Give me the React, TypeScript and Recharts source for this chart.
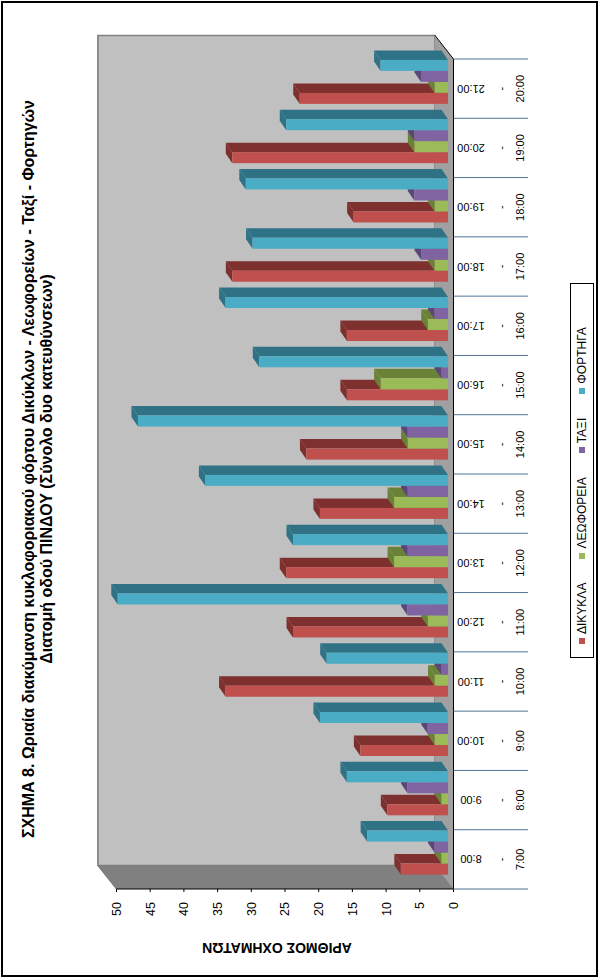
import React from 'react';
import { BarChart, Bar, XAxis, YAxis, CartesianGrid, Legend } from 'recharts';

const hourStarts = ['7:00', '8:00', '9:00', '10:00', '11:00', '12:00', '13:00', '14:00', '15:00', '16:00', '17:00', '18:00', '19:00', '20:00'];
const hourEnds = ['8:00', '9:00', '10:00', '11:00', '12:00', '13:00', '14:00', '15:00', '16:00', '17:00', '18:00', '19:00', '20:00', '21:00'];
const dikykla = [7, 9, 13, 33, 23, 24, 19, 21, 15, 15, 32, 14, 32, 22];
const leoforeia = [1, 1, 2, 2, 3, 8, 8, 6, 10, 3, 2, 2, 5, 2];
const taxi = [2, 6, 3, 1, 6, 6, 6, 6, 1, 2, 4, 5, 5, 4];
const fortiga = [12, 15, 19, 18, 49, 23, 36, 46, 28, 33, 29, 30, 24, 10];
const valueTicks = [0, 5, 10, 15, 20, 25, 30, 35, 40, 45, 50];

const rows = hourStarts.map((h, i) => ({
  hour: h,
  dikykla: dikykla[i],
  leoforeia: leoforeia[i],
  taxi: taxi[i],
  fortiga: fortiga[i],
}));

const series = [
  { key: 'dikykla', name: 'ΔΙΚΥΚΛΑ', color: '#C0504D', dark: '#7E302E' },
  { key: 'leoforeia', name: 'ΛΕΩΦΟΡΕΙΑ', color: '#9BBB59', dark: '#6A8238' },
  { key: 'taxi', name: 'ΤΑΞΙ', color: '#8064A2', dark: '#5A4678' },
  { key: 'fortiga', name: 'ΦΟΡΤΗΓΑ', color: '#4BACC6', dark: '#2F7286' },
];

const W = 979;
const H = 600;
const left = 90;
const right = 920;
const top = 116.5;
const bottom = 453.5;
const depthX = 23.5;
const depthY = -18.5;
const step = (right - left) / hourStarts.length;
const font = '"Liberation Sans", Arial, sans-serif';

function Box3D(props: any) {
  const { x, y, width, height, color, dark } = props;
  // bars sit part way into the floor
  const x0 = x + 6.4;
  const y0 = y - 5.5;
  const dx = 9.5;
  const dy = -6.5;
  const x1 = x0 + width;
  const y1 = y0 + height;
  return (
    <g>
      <polygon points={`${x1},${y1} ${x1 + dx},${y1 + dy} ${x1 + dx},${y0 + dy} ${x1},${y0}`} fill={dark} />
      <polygon points={`${x0},${y0} ${x0 + dx},${y0 + dy} ${x1 + dx},${y0 + dy} ${x1},${y0}`} fill={dark} />
      <rect x={x0} y={y0} width={width} height={height} fill={color} />
    </g>
  );
}

function GridLine(props: any) {
  const { x1, y1, x2, y2 } = props;
  const edge = y1 < top + 1 || y1 > bottom - 1;
  return (
    <path
      d={`M${x1},${y1} L${x1 + depthX},${y1 + depthY} L${x2 + depthX},${y2 + depthY}`}
      fill="none"
      stroke={edge ? '#6E6E6E' : '#1C1C1C'}
      strokeWidth={1.2}
    />
  );
}

function HourTick(props: any) {
  const { x, index, payload } = props;
  const i = index ?? payload.index;
  const sep = '#4F7396';
  return (
    <g fontFamily={font} fontSize={11} fill="#000">
      <line x1={x - step / 2} y1={bottom} x2={x - step / 2} y2={528} stroke={sep} />
      {i === hourStarts.length - 1 && <line x1={x + step / 2} y1={bottom} x2={x + step / 2} y2={528} stroke={sep} />}
      <text x={x + 4} y={471} textAnchor="middle" transform={`rotate(-90 ${x + 4} 471)`}>{hourEnds[i]}</text>
      <text x={x} y={505} textAnchor="middle">-</text>
      <text x={x} y={524} textAnchor="middle">{payload.value}</text>
    </g>
  );
}

function LegendBox({ payload }: any) {
  return (
    <div style={{ display: 'flex', alignItems: 'center', height: 24, boxSizing: 'border-box', border: '1px solid #000', paddingLeft: 13, fontFamily: font, fontSize: 12, background: '#fff' }}>
      {(payload || []).map((p: any) => (
        <span key={p.value} style={{ display: 'flex', alignItems: 'center', marginRight: 24 }}>
          <i style={{ width: 6, height: 6, background: p.color, marginRight: 4, display: 'block' }} />
          {p.value}
        </span>
      ))}
    </div>
  );
}

export default function App() {
  return (
    <div style={{ position: 'absolute', left: 0, top: 0, width: 600, height: 979, overflow: 'hidden', background: '#fff' }}>
      <div style={{ position: 'absolute', left: 1, top: 1, width: 597, height: 976, boxSizing: 'border-box', border: '2px solid #000' }} />
      <div style={{ position: 'absolute', left: 0, top: 0, width: W, height: H, transformOrigin: '0 0', transform: `translateY(${W}px) rotate(-90deg)` }}>
        <BarChart
          width={W}
          height={H}
          data={rows}
          margin={{ left: left - 60, right: W - right, top, bottom: H - bottom - 60 }}
          barCategoryGap={8}
          barGap={0}
        >
          <polygon points={`${left + depthX},${top + depthY} ${right + depthX},${top + depthY} ${right + depthX},${bottom + depthY} ${left + depthX},${bottom + depthY}`} fill="#C0C0C0" stroke="#808080" strokeWidth={1.5} />
          <polygon points={`${left},${top} ${left + depthX},${top + depthY} ${left + depthX},${bottom + depthY} ${left},${bottom}`} fill="#808080" />
          <polygon points={`${left},${bottom} ${right},${bottom} ${right + depthX},${bottom + depthY} ${left + depthX},${bottom + depthY}`} fill="#A0A0A0" />
          <line x1={right} y1={bottom} x2={right + depthX} y2={bottom + depthY} stroke="#000" />
          <CartesianGrid vertical={false} horizontal={GridLine} />
          <XAxis dataKey="hour" height={60} interval={0} tickLine={false} axisLine={{ stroke: '#000' }} tick={HourTick} />
          <YAxis
            width={60}
            domain={[0, 50]}
            ticks={valueTicks}
            interval={0}
            tickSize={3}
            tickMargin={10}
            axisLine={{ stroke: '#000' }}
            tickLine={{ stroke: '#000' }}
            tick={{ fill: '#000', fontSize: 12.5, fontFamily: font }}
          />
          {series.map((s) => (
            <Bar
              key={s.key}
              dataKey={s.key}
              name={s.name}
              fill={s.color}
              isAnimationActive={false}
              shape={(p: any) => <Box3D {...p} color={s.color} dark={s.dark} />}
            />
          ))}
          <Legend
            layout="horizontal"
            verticalAlign="middle"
            align="center"
            content={<LegendBox />}
            wrapperStyle={{ left: 321, top: 570, width: 375, height: 24 }}
          />
          <text x={510} y={34} textAnchor="middle" fontFamily={font} fontSize={16} fontWeight="bold">ΣΧΗΜΑ 8. Ωριαία διακύμανση κυκλοφοριακού φόρτου Δικύκλων - Λεωφορείων - Ταξί - Φορτηγών</text>
          <text x={510} y={52} textAnchor="middle" fontFamily={font} fontSize={16} fontWeight="bold">Διατομή οδού ΠΙΝΔΟΥ (Σύνολο δυο κατευθύνσεων)</text>
          <text x={36} y={277} textAnchor="middle" transform="rotate(-90 36 277)" fontFamily={font} fontSize={14} fontWeight="bold">ΑΡΙΘΜΟΣ ΟΧΗΜΑΤΩΝ</text>
        </BarChart>
      </div>
    </div>
  );
}
